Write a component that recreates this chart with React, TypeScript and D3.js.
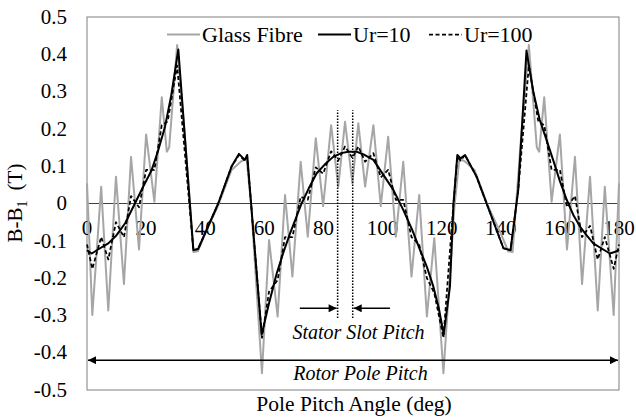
import React from "react";
import * as d3 from "d3";

// Glass Fibre series (angle in deg, B-B1 in T)
const glassX = [0, 1.8, 4.8, 7.2, 9.8, 12.5, 14.9, 17.6, 20.0, 22.8, 25.3, 27.0, 27.8, 30.5, 33.2, 36.0, 37.5, 40.0, 44.4, 48.9, 52.0, 54.0, 55.6, 59.2, 61.6, 64.5, 67.0, 69.5, 72.3, 74.7, 77.4, 79.9, 82.6, 85.0, 87.3, 89.8, 91.8, 94.1, 96.9, 99.4, 101.9, 104.5, 107.0, 109.8, 112.4, 115.0, 117.5, 120.6, 124.3, 126.0, 128.0, 131.1, 135.6, 140.0, 142.5, 144.0, 146.8, 149.5, 152.2, 153.0, 154.7, 157.2, 160.0, 162.4, 165.1, 167.5, 170.2, 172.8, 175.2, 178.2, 180];
const glassY = [0.054, -0.299, 0.045, -0.287, 0.072, -0.216, 0.125, -0.123, 0.185, 0.005, 0.285, 0.139, 0.15, 0.425, 0.17, -0.13, -0.128, -0.08, -0.005, 0.09, 0.112, 0.12, -0.01, -0.455, -0.098, -0.303, 0.023, -0.196, 0.112, -0.089, 0.175, -0.007, 0.21, 0.045, 0.219, 0.054, 0.215, 0.045, 0.21, -0.007, 0.179, -0.089, 0.112, -0.196, 0.023, -0.303, -0.093, -0.455, -0.01, 0.12, 0.112, 0.09, -0.005, -0.08, -0.128, -0.13, 0.17, 0.425, 0.15, 0.139, 0.285, 0.005, 0.185, -0.123, 0.125, -0.216, 0.072, -0.287, 0.045, -0.299, 0.054];

// Ur=10 series
const ur10X = [0, 1.6, 4.0, 7.2, 10.0, 12.9, 16.2, 19.0, 21.9, 24.0, 26.4, 28.5, 30.9, 36.0, 37.6, 44.4, 48.9, 51.4, 53.4, 54.2, 55.6, 59.1, 61.5, 64.2, 66.5, 68.7, 72.6, 75.0, 77.7, 80.5, 83.3, 86.0, 88.4, 91.2, 94.0, 96.9, 100.0, 103.7, 107.0, 110.0, 112.7, 115.0, 117.2, 119.0, 120.7, 122.8, 124.0, 125.3, 126.4, 127.9, 131.8, 135.2, 140.9, 143.3, 145.9, 148.7, 151.0, 153.2, 155.5, 157.7, 160.0, 162.3, 164.5, 166.8, 169.0, 171.3, 174.0, 176.9, 178.5, 180];
const ur10Y = [-0.125, -0.134, -0.122, -0.107, -0.085, -0.053, 0.0, 0.045, 0.09, 0.14, 0.206, 0.29, 0.413, -0.125, -0.122, 0.0, 0.099, 0.133, 0.117, 0.13, -0.008, -0.352, -0.27, -0.187, -0.13, -0.08, 0.0, 0.04, 0.081, 0.105, 0.125, 0.135, 0.139, 0.139, 0.13, 0.117, 0.08, 0.036, -0.017, -0.07, -0.125, -0.17, -0.223, -0.28, -0.35, -0.223, 0.0, 0.13, 0.121, 0.13, 0.072, 0.0, -0.12, -0.125, 0.036, 0.41, 0.3, 0.224, 0.17, 0.117, 0.06, 0.01, -0.03, -0.062, -0.085, -0.107, -0.12, -0.134, -0.13, -0.125];

// Ur=100 series
const ur100X = [0, 1.8, 4.8, 7.2, 9.8, 12.5, 14.9, 17.6, 20.0, 22.8, 25.3, 27.3, 30.5, 36.0, 37.6, 44.4, 48.9, 51.4, 53.4, 54.2, 55.6, 59.2, 61.6, 64.5, 67.0, 69.5, 72.3, 74.7, 77.4, 79.9, 82.6, 85.0, 87.3, 89.8, 91.8, 94.1, 96.9, 99.4, 101.9, 104.5, 107.0, 109.8, 112.4, 115.0, 117.5, 120.6, 124.0, 125.3, 126.4, 127.9, 131.8, 135.2, 140.9, 143.3, 145.9, 149.5, 152.7, 154.7, 157.2, 160.0, 162.4, 165.1, 167.5, 170.2, 172.8, 175.2, 178.2, 180];
const ur100Y = [-0.11, -0.175, -0.09, -0.15, -0.05, -0.09, 0.02, -0.01, 0.09, 0.09, 0.21, 0.22, 0.37, -0.125, -0.122, 0.0, 0.099, 0.13, 0.115, 0.125, -0.008, -0.36, -0.236, -0.205, -0.09, -0.09, 0.018, 0.01, 0.097, 0.08, 0.14, 0.115, 0.153, 0.122, 0.153, 0.112, 0.135, 0.07, 0.09, 0.01, 0.01, -0.09, -0.11, -0.2, -0.24, -0.36, 0.0, 0.125, 0.115, 0.13, 0.072, 0.0, -0.12, -0.125, 0.036, 0.37, 0.22, 0.21, 0.09, 0.09, -0.01, 0.02, -0.09, -0.06, -0.15, -0.09, -0.175, -0.11];

const xTicks = [0, 20, 40, 60, 80, 100, 120, 140, 160, 180];
const yTicks = [-0.5, -0.4, -0.3, -0.2, -0.1, 0, 0.1, 0.2, 0.3, 0.4, 0.5];

const legendLabels = ["Glass Fibre", "Ur=10", "Ur=100"];

// annotation anchors (data units)
const slotLines = [84.8, 89.9];
const slotLineRange = [-0.307, 0.25];
const slotArrowY = -0.281;
const slotArrowFrom = [72.0, 102.5];
const rotorArrowY = -0.42;
const rotorArrowRange = [0, 180];

const W = 636;
const H = 417;
const FONT = '"Liberation Serif", serif';
const tf: React.CSSProperties = { fontFamily: FONT };
const tfi: React.CSSProperties = { fontFamily: FONT, fontStyle: "italic" };

export default function App() {
  const x = d3.scaleLinear().domain([0, 180]).range([87, 619]);
  const y = d3.scaleLinear().domain([-0.5, 0.5]).range([390, 17]);

  const mk = (xs: number[], ys: number[]) =>
    d3
      .line<number>()
      .x((_, i) => x(xs[i]))
      .y((v) => y(v))
      .curve(d3.curveLinear)(ys) as string;

  const glassPath = mk(glassX, glassY);
  const ur10Path = mk(ur10X, ur10Y);
  const ur100Path = mk(ur100X, ur100Y);

  const y0 = y(0);

  return (
    <svg width={W} height={H} style={{ position: "absolute", left: 0, top: 0, background: "#fff" }}>
      <defs>
        <marker id="ah" viewBox="0 0 10 10" refX="10" refY="5" markerWidth="10" markerHeight="8" markerUnits="userSpaceOnUse" orient="auto-start-reverse">
          <path d="M0,0 L10,5 L0,10 z" fill="#000" />
        </marker>
      </defs>
      <rect x={0} y={0} width={W} height={H} fill="#fff" />
      {/* plot border */}
      <rect x={x(0)} y={y(0.5)} width={x(180) - x(0)} height={y(-0.5) - y(0.5)} fill="none" stroke="#7f7f7f" strokeWidth={1} />
      {/* zero line */}
      <line x1={x(0)} x2={x(180)} y1={y0} y2={y0} stroke="#404040" strokeWidth={1} />

      {/* y tick labels */}
      {yTicks.map((t) => (
        <text key={"y" + t} x={67} y={y(t) + 6.7} textAnchor="end" fontSize={21} fill="#000" style={tf}>
          {t === 0 ? "0" : d3.format(".1f")(t).replace("−", "-")}
        </text>
      ))}
      {/* x tick labels */}
      {xTicks.map((t) => (
        <text key={"x" + t} x={x(t)} y={y0 + 31.5} textAnchor="middle" fontSize={21} fill="#000" style={tf}>
          {t}
        </text>
      ))}

      {/* series */}
      <path d={glassPath} fill="none" stroke="#a6a6a6" strokeWidth={2} strokeLinejoin="round" />
      <path d={ur10Path} fill="none" stroke="#000" strokeWidth={2} strokeLinejoin="round" />
      <path d={ur100Path} fill="none" stroke="#000" strokeWidth={1.75} strokeDasharray="4,2.5" strokeLinejoin="round" />

      {/* stator slot pitch annotation */}
      {slotLines.map((s) => (
        <line key={"s" + s} x1={x(s)} x2={x(s)} y1={y(slotLineRange[0])} y2={y(slotLineRange[1])} stroke="#000" strokeWidth={1.5} strokeDasharray="1.5,1.5" />
      ))}
      <line x1={x(slotArrowFrom[0])} x2={x(slotLines[0]) - 1} y1={y(slotArrowY)} y2={y(slotArrowY)} stroke="#000" strokeWidth={1.5} markerEnd="url(#ah)" />
      <line x1={x(slotArrowFrom[1])} x2={x(slotLines[1]) + 1} y1={y(slotArrowY)} y2={y(slotArrowY)} stroke="#000" strokeWidth={1.5} markerEnd="url(#ah)" />
      <text x={358.5} y={339} textAnchor="middle" fontSize={20} fill="#000" style={tfi}>
        Stator Slot Pitch
      </text>

      {/* rotor pole pitch annotation */}
      <line x1={x(rotorArrowRange[0]) + 1} x2={x(rotorArrowRange[1]) - 1} y1={y(rotorArrowY)} y2={y(rotorArrowY)} stroke="#000" strokeWidth={1.5} markerStart="url(#ah)" markerEnd="url(#ah)" />
      <text x={360.5} y={380} textAnchor="middle" fontSize={20} fill="#000" style={tfi}>
        Rotor Pole Pitch
      </text>

      {/* legend */}
      <line x1={167} x2={200} y1={34.5} y2={34.5} stroke="#a6a6a6" strokeWidth={2} />
      <text x={202} y={41.7} fontSize={22} fill="#000" style={tf}>{legendLabels[0]}</text>
      <line x1={318} x2={351} y1={34.5} y2={34.5} stroke="#000" strokeWidth={2} />
      <text x={353} y={41.7} fontSize={22} fill="#000" style={tf}>{legendLabels[1]}</text>
      <line x1={429} x2={462} y1={34.5} y2={34.5} stroke="#000" strokeWidth={1.75} strokeDasharray="4,2.5" />
      <text x={464} y={41.7} fontSize={22} fill="#000" style={tf}>{legendLabels[2]}</text>

      {/* axis titles */}
      <text x={354} y={411} textAnchor="middle" fontSize={21.5} fill="#000" style={tf}>
        Pole Pitch Angle (deg)
      </text>
      <text transform="translate(22,203) rotate(-90)" textAnchor="middle" fontSize={21} fill="#000" style={tf}>
        <tspan>B-B</tspan>
        <tspan fontSize={14} dy={5}>1</tspan>
        <tspan dy={-5} dx={10}>(T)</tspan>
      </text>
    </svg>
  );
}
